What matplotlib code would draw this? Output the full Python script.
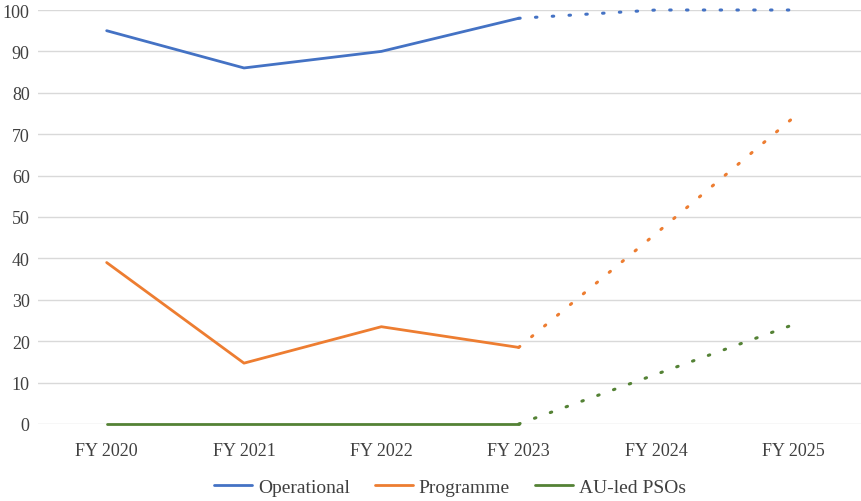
import matplotlib.pyplot as plt

years = ["FY 2020", "FY 2021", "FY 2022", "FY 2023", "FY 2024", "FY 2025"]

# actuals (FY2020-FY2023) and projections (FY2023-FY2025)
operational = [95, 86, 90, 98]
operational_proj = [98, 100, 100]
programme = [39, 14.7, 23.5, 18.5]
programme_proj = [18.5, 46, 74]
au_led = [0, 0, 0, 0]
au_led_proj = [0, 12, 24]

colors = {"Operational": "#4472C4", "Programme": "#ED7D31", "AU-led PSOs": "#548235"}

plt.rcParams['font.family'] = ['Liberation Serif', 'DejaVu Serif']

fig = plt.figure(figsize=(8.62, 5.02), dpi=100)
ax = fig.add_axes([38/862, 77/502, 824/862, 414/502])

xa = list(range(4))
xp = list(range(3, 6))

series = [
    ("Operational", operational, operational_proj),
    ("Programme", programme, programme_proj),
    ("AU-led PSOs", au_led, au_led_proj),
]
for name, act, proj in series:
    c = colors[name]
    ax.plot(xa, act, color=c, lw=2.0, label=name, solid_capstyle='round',
            zorder=3, clip_on=False)
    ax.plot(xp, proj, color=c, lw=2.2, linestyle=(0, (0.5, 5.0)),
            dash_capstyle='round', zorder=3, clip_on=False)

ax.set_xlim(-0.5, 5.5)
ax.set_ylim(0, 100)
ax.set_yticks(range(0, 101, 10))
ax.set_xticks(range(6))
ax.set_xticklabels(years)
ax.grid(axis='y', color='#D9D9D9', lw=1.0, zorder=0)
ax.set_axisbelow(True)
for s in ax.spines.values():
    s.set_visible(False)
ax.tick_params(axis='both', length=0, labelsize=13, colors='#404040')
ax.tick_params(axis='x', pad=13)
ax.tick_params(axis='y', pad=6)

leg = ax.legend(loc='center', bbox_to_anchor=(0.5, -0.152), ncol=3,
                frameon=False, fontsize=14, handlelength=1.95, columnspacing=1.3,
                handletextpad=0.3, borderpad=0)
for t in leg.get_texts():
    t.set_color('#404040')

fig.savefig("out.png", dpi=100)
